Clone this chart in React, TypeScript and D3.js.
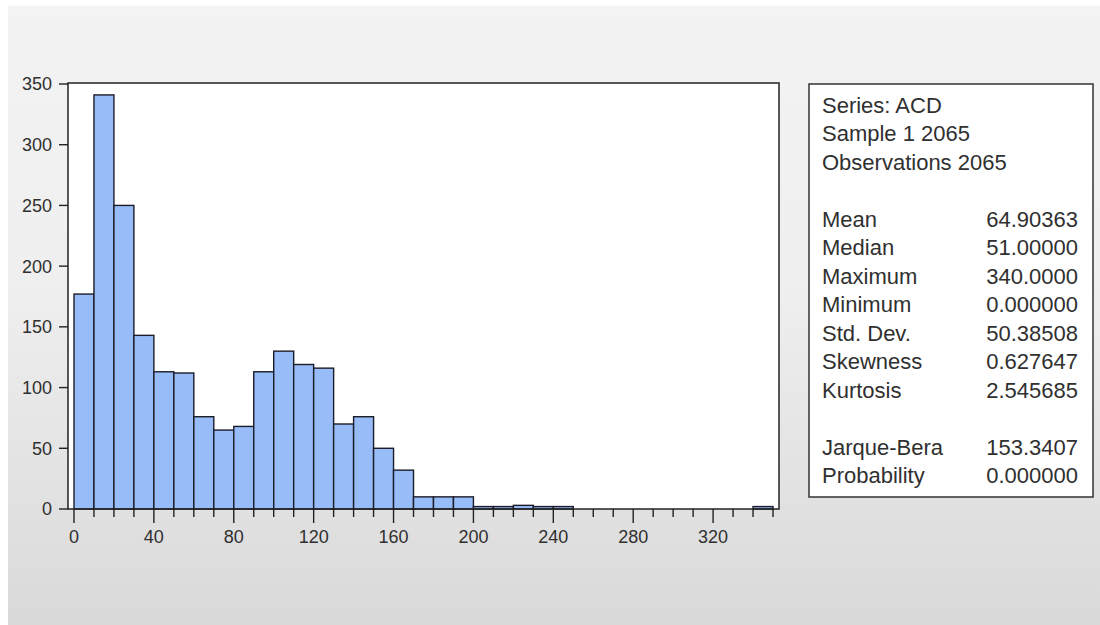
import React from "react";
import * as d3 from "d3";

// Histogram of ACD: counts per bin of width 10, starting at 0
const binStarts = [
  0, 10, 20, 30, 40, 50, 60, 70, 80, 90, 100, 110, 120, 130, 140, 150, 160, 170,
  180, 190, 200, 210, 220, 230, 240, 250, 260, 270, 280, 290, 300, 310, 320, 330, 340,
];
const binCounts = [
  177, 341, 250, 143, 113, 112, 76, 65, 68, 113, 130, 119, 116, 70, 76, 50, 32, 10,
  10, 10, 2, 2, 3, 2, 2, 0, 0, 0, 0, 0, 0, 0, 0, 0, 2,
];
const binWidth = 10;

const yTicks = [0, 50, 100, 150, 200, 250, 300, 350];
const xMajorTicks = [0, 40, 80, 120, 160, 200, 240, 280, 320];
const xMinorTicks = d3.range(0, 351, 10);

const headerLines = ["Series: ACD", "Sample 1 2065", "Observations 2065"];
const statNames = ["Mean", "Median", "Maximum", "Minimum", "Std. Dev.", "Skewness", "Kurtosis"];
const statValues = ["64.90363", "51.00000", "340.0000", "0.000000", "50.38508", "0.627647", "2.545685"];
const testNames = ["Jarque-Bera", "Probability"];
const testValues = ["153.3407", "0.000000"];

const W = 1100;
const H = 625;
const plot = { left: 68, right: 779, top: 83, bottom: 509 };
const font = "'Liberation Sans', Arial, Helvetica, sans-serif";
const ink = "#222";
const textInk = "#303030";

export default function App() {
  const x = d3.scaleLinear().domain([-3, 353]).range([plot.left, plot.right]);
  const y = d3.scaleLinear().domain([0, 350]).range([plot.bottom, 84]);

  const box = { left: 809, right: 1093, top: 84, bottom: 497 };
  const lineH = 28.5;
  const firstBase = 112.5;
  const textLeft = 822;
  const textRight = 1078;

  const rows: { label: string; value?: string; row: number }[] = [];
  headerLines.forEach((t, i) => rows.push({ label: t, row: i }));
  statNames.forEach((t, i) => rows.push({ label: t, value: statValues[i], row: 4 + i }));
  testNames.forEach((t, i) => rows.push({ label: t, value: testValues[i], row: 12 + i }));

  return (
    <div style={{ position: "absolute", left: 0, top: 0 }}>
      <svg width={W} height={H} style={{ display: "block" }}>
        <defs>
          <linearGradient id="bg" x1="0" y1="0" x2="0" y2="1">
            <stop offset="0%" stopColor="#f3f3f3" />
            <stop offset="45%" stopColor="#efefef" />
            <stop offset="100%" stopColor="#d9d9d9" />
          </linearGradient>
        </defs>
        <rect x={0} y={0} width={W} height={H} fill="#ffffff" />
        <rect x={8} y={6} width={W - 8} height={H - 6} fill="url(#bg)" />

        {/* plot area */}
        <rect
          x={plot.left}
          y={plot.top}
          width={plot.right - plot.left}
          height={plot.bottom - plot.top}
          fill="#ffffff"
        />

        {/* bars */}
        <g>
          {binStarts.map((s, i) =>
            binCounts[i] > 0 ? (
              <rect
                key={s}
                x={x(s)}
                y={y(binCounts[i])}
                width={x(s + binWidth) - x(s)}
                height={y(0) - y(binCounts[i])}
                fill="#97bcf7"
                stroke="#1c1c28"
                strokeWidth={1.4}
              />
            ) : null
          )}
        </g>

        {/* frame */}
        <rect
          x={plot.left}
          y={plot.top}
          width={plot.right - plot.left}
          height={plot.bottom - plot.top}
          fill="none"
          stroke={ink}
          strokeWidth={1.5}
        />

        {/* y axis */}
        <g fontFamily={font} fontSize={18} fill={textInk}>
          {yTicks.map((t) => (
            <g key={t}>
              <line x1={plot.left - 9} x2={plot.left} y1={y(t)} y2={y(t)} stroke={ink} strokeWidth={1.4} />
              <text x={52} y={y(t)} dy="0.36em" textAnchor="end">
                {t}
              </text>
            </g>
          ))}
        </g>

        {/* x axis */}
        <g>
          {xMinorTicks.map((t) => (
            <line
              key={t}
              x1={x(t)}
              x2={x(t)}
              y1={plot.bottom}
              y2={xMajorTicks.includes(t) ? plot.bottom + 14 : plot.bottom + 8}
              stroke={ink}
              strokeWidth={1.4}
            />
          ))}
        </g>
        <g fontFamily={font} fontSize={18} fill={textInk}>
          {xMajorTicks.map((t) => (
            <text key={t} x={x(t)} y={543} textAnchor="middle">
              {t}
            </text>
          ))}
        </g>

        {/* statistics box */}
        <rect
          x={box.left}
          y={box.top}
          width={box.right - box.left}
          height={box.bottom - box.top}
          fill="#ffffff"
          stroke="#333"
          strokeWidth={1.5}
        />
        <g fontFamily={font} fontSize={22} fill={textInk}>
          {rows.map((r) => (
            <g key={r.label}>
              <text x={textLeft} y={firstBase + r.row * lineH}>
                {r.label}
              </text>
              {r.value !== undefined && (
                <text x={textRight} y={firstBase + r.row * lineH} textAnchor="end">
                  {r.value}
                </text>
              )}
            </g>
          ))}
        </g>
      </svg>
    </div>
  );
}
